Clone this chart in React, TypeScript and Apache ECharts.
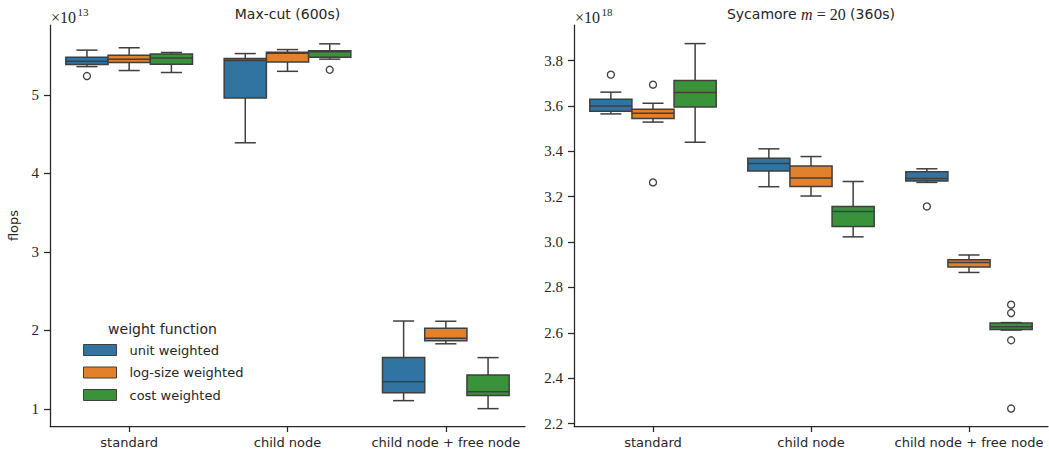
import React, { useEffect, useRef } from 'react';
import * as echarts from 'echarts';

const categories = ['standard', 'child node', 'child node + free node'];
const hues = ['unit weighted', 'log-size weighted', 'cost weighted'];
const hueColors = ['#3274a1', '#e1812c', '#3a923a'];

// Each row: [lower whisker, Q1, median, Q3, upper whisker] for one category
const maxcutUnit = [
  [5.36, 5.386, 5.429, 5.48, 5.57],
  [4.39, 4.96, 5.437, 5.462, 5.526],
  [1.106, 1.208, 1.348, 1.654, 2.12],
];
const maxcutLog = [
  [5.31, 5.411, 5.455, 5.506, 5.6],
  [5.3, 5.42, 5.53, 5.542, 5.577],
  [1.83, 1.87, 1.9, 2.028, 2.117],
];
const maxcutCost = [
  [5.285, 5.39, 5.47, 5.52, 5.54],
  [5.455, 5.48, 5.55, 5.562, 5.65],
  [1.004, 1.17, 1.22, 1.433, 1.654],
];
// outliers: [category index, value]
const maxcutUnitOut = [[0, 5.24]];
const maxcutLogOut: number[][] = [];
const maxcutCostOut = [[1, 5.32]];

const sycUnit = [
  [3.565, 3.577, 3.6, 3.63, 3.661],
  [3.244, 3.313, 3.346, 3.37, 3.411],
  [3.263, 3.269, 3.28, 3.31, 3.323],
];
const sycLog = [
  [3.529, 3.545, 3.568, 3.586, 3.612],
  [3.203, 3.245, 3.282, 3.335, 3.377],
  [2.866, 2.89, 2.91, 2.922, 2.943],
];
const sycCost = [
  [3.44, 3.596, 3.659, 3.712, 3.875],
  [3.023, 3.069, 3.135, 3.157, 3.267],
  [2.612, 2.614, 2.627, 2.643, 2.645],
];
const sycUnitOut = [[0, 3.738], [2, 3.157]];
const sycLogOut = [[0, 3.694], [0, 3.263]];
const sycCostOut = [[2, 2.724], [2, 2.687], [2, 2.567], [2, 2.266]];

const maxcutTicks = [1, 2, 3, 4, 5];
const sycTicks = [2.2, 2.4, 2.6, 2.8, 3.0, 3.2, 3.4, 3.6, 3.8];

const EDGE = '#3f3f3f';
const TXT = '#262626';
const SANS = 'DejaVu Sans';
const SERIF = 'Liberation Serif';

function boxRenderer(hueIdx: number) {
  return (params: any, api: any) => {
    const cat = api.value(0);
    const band = api.size([1, 0])[0];
    const bw = (band * 0.8) / 3;
    const cx = api.coord([cat, api.value(3)])[0] + (hueIdx - 1) * bw;
    const y = (i: number) => api.coord([cat, api.value(i)])[1];
    const yLo = y(1), yQ1 = y(2), yMed = y(3), yQ3 = y(4), yHi = y(5);
    const cap = bw / 4;
    const ls = { stroke: EDGE, lineWidth: 1.5 };
    return {
      type: 'group',
      children: [
        { type: 'line', shape: { x1: cx, y1: yQ3, x2: cx, y2: yHi }, style: ls },
        { type: 'line', shape: { x1: cx, y1: yQ1, x2: cx, y2: yLo }, style: ls },
        { type: 'line', shape: { x1: cx - cap, y1: yHi, x2: cx + cap, y2: yHi }, style: ls },
        { type: 'line', shape: { x1: cx - cap, y1: yLo, x2: cx + cap, y2: yLo }, style: ls },
        {
          type: 'rect',
          shape: { x: cx - bw / 2, y: yQ3, width: bw, height: yQ1 - yQ3 },
          style: { fill: hueColors[hueIdx], stroke: EDGE, lineWidth: 1.5 },
        },
        { type: 'line', shape: { x1: cx - bw / 2, y1: yMed, x2: cx + bw / 2, y2: yMed }, style: ls },
      ],
    };
  };
}

function outlierRenderer(hueIdx: number) {
  return (params: any, api: any) => {
    const cat = api.value(0);
    const band = api.size([1, 0])[0];
    const bw = (band * 0.8) / 3;
    const p = api.coord([cat, api.value(1)]);
    return {
      type: 'circle',
      shape: { cx: p[0] + (hueIdx - 1) * bw, cy: p[1], r: 3.5 },
      style: { fill: 'none', stroke: EDGE, lineWidth: 1.3 },
    };
  };
}

function boxSeries(name: string, hueIdx: number, rows: number[][], axis: number) {
  return {
    type: 'custom',
    name,
    xAxisIndex: axis,
    yAxisIndex: axis,
    itemStyle: { color: hueColors[hueIdx] },
    encode: { x: 0, y: [1, 2, 3, 4, 5] },
    renderItem: boxRenderer(hueIdx),
    data: rows.map((r, i) => [i, ...r]),
  };
}

function outSeries(name: string, hueIdx: number, pts: number[][], axis: number) {
  return {
    type: 'custom',
    name: name + ' outliers',
    xAxisIndex: axis,
    yAxisIndex: axis,
    encode: { x: 0, y: 1 },
    renderItem: outlierRenderer(hueIdx),
    data: pts,
  };
}

const axisLineStyle = { color: TXT, width: 1.25 };

function xAxisCfg(gridIndex: number) {
  return {
    type: 'category',
    gridIndex,
    data: categories,
    axisLine: { show: true, lineStyle: axisLineStyle },
    axisTick: { show: true, alignWithLabel: true, interval: 0, length: 6, lineStyle: axisLineStyle },
    axisLabel: { fontFamily: SANS, fontSize: 13, color: TXT, margin: 10, interval: 0 },
    splitLine: { show: false },
  };
}

function yAxisCfg(gridIndex: number, min: number, max: number, ticks: number[], digits: number, name: string) {
  return {
    type: 'value',
    gridIndex,
    min,
    max,
    name,
    nameLocation: 'middle',
    nameGap: 30,
    nameTextStyle: { fontFamily: SANS, fontSize: 13, color: TXT },
    axisLine: { show: true, lineStyle: axisLineStyle },
    axisTick: { show: true, length: 6, lineStyle: axisLineStyle, customValues: ticks },
    axisLabel: {
      fontFamily: SERIF,
      fontSize: 15,
      color: TXT,
      margin: 11,
      customValues: ticks,
      formatter: (v: number) => v.toFixed(digits),
    },
    splitLine: { show: false },
  };
}

export default function App() {
  const ref = useRef<HTMLDivElement>(null);
  useEffect(() => {
    if (!ref.current) return;
    const chart = echarts.init(ref.current, undefined, { renderer: 'svg' });
    const option: any = {
      animation: false,
      backgroundColor: '#ffffff',
      grid: [
        { left: 50, top: 25, width: 475, height: 401 },
        { left: 574, top: 25, width: 474, height: 401 },
      ],
      xAxis: [xAxisCfg(0), xAxisCfg(1)],
      yAxis: [
        yAxisCfg(0, 0.783, 5.89, maxcutTicks, 0, 'flops'),
        yAxisCfg(1, 2.189, 3.957, sycTicks, 1, ''),
      ],
      legend: {
        orient: 'vertical',
        left: 83,
        top: 343,
        padding: 0,
        itemWidth: 33,
        itemHeight: 11,
        itemGap: 8.5,
        textStyle: { fontFamily: SANS, fontSize: 13, color: TXT, lineHeight: 14, padding: [0, 0, 0, 8] },
        data: hues.map((name, i) => ({
          name,
          icon: 'rect',
          itemStyle: { color: hueColors[i], borderColor: EDGE, borderWidth: 1 },
        })),
      },
      graphic: [
        {
          type: 'text', x: 287.5, y: 14,
          style: { text: 'Max-cut (600s)', fontFamily: SANS, fontSize: 14, fill: TXT, align: 'center', verticalAlign: 'middle' },
        },
        {
          type: 'text', x: 811, y: 14,
          style: {
            text: '{a|Sycamore }{b|m}{c| = 20}{a| (360s)}',
            align: 'center', verticalAlign: 'middle',
            rich: {
              a: { fontFamily: SANS, fontSize: 14, fill: TXT },
              b: { fontFamily: SERIF, fontStyle: 'italic', fontSize: 16, fill: TXT },
              c: { fontFamily: SERIF, fontSize: 16, fill: TXT },
            },
          },
        },
        { type: 'text', x: 51, y: 17.5, style: { text: '×10', fontFamily: SERIF, fontSize: 16, fill: TXT, align: 'left', verticalAlign: 'middle' } },
        { type: 'text', x: 77.5, y: 12, style: { text: '13', fontFamily: SERIF, fontSize: 11, fill: TXT, align: 'left', verticalAlign: 'middle' } },
        { type: 'text', x: 575, y: 17.5, style: { text: '×10', fontFamily: SERIF, fontSize: 16, fill: TXT, align: 'left', verticalAlign: 'middle' } },
        { type: 'text', x: 601.5, y: 12, style: { text: '18', fontFamily: SERIF, fontSize: 11, fill: TXT, align: 'left', verticalAlign: 'middle' } },
        { type: 'text', x: 162.5, y: 328.5, style: { text: 'weight function', fontFamily: SANS, fontSize: 14, fill: TXT, align: 'center', verticalAlign: 'middle' } },
      ],
      series: [
        boxSeries(hues[0], 0, maxcutUnit, 0),
        boxSeries(hues[1], 1, maxcutLog, 0),
        boxSeries(hues[2], 2, maxcutCost, 0),
        outSeries(hues[0], 0, maxcutUnitOut, 0),
        outSeries(hues[1], 1, maxcutLogOut, 0),
        outSeries(hues[2], 2, maxcutCostOut, 0),
        boxSeries(hues[0], 0, sycUnit, 1),
        boxSeries(hues[1], 1, sycLog, 1),
        boxSeries(hues[2], 2, sycCost, 1),
        outSeries(hues[0], 0, sycUnitOut, 1),
        outSeries(hues[1], 1, sycLogOut, 1),
        outSeries(hues[2], 2, sycCostOut, 1),
      ],
    };
    chart.setOption(option);
    return () => chart.dispose();
  }, []);
  return (
    <div
      ref={ref}
      style={{ position: 'fixed', left: 0, top: 0, width: 1049, height: 456, background: '#fff' }}
    />
  );
}
